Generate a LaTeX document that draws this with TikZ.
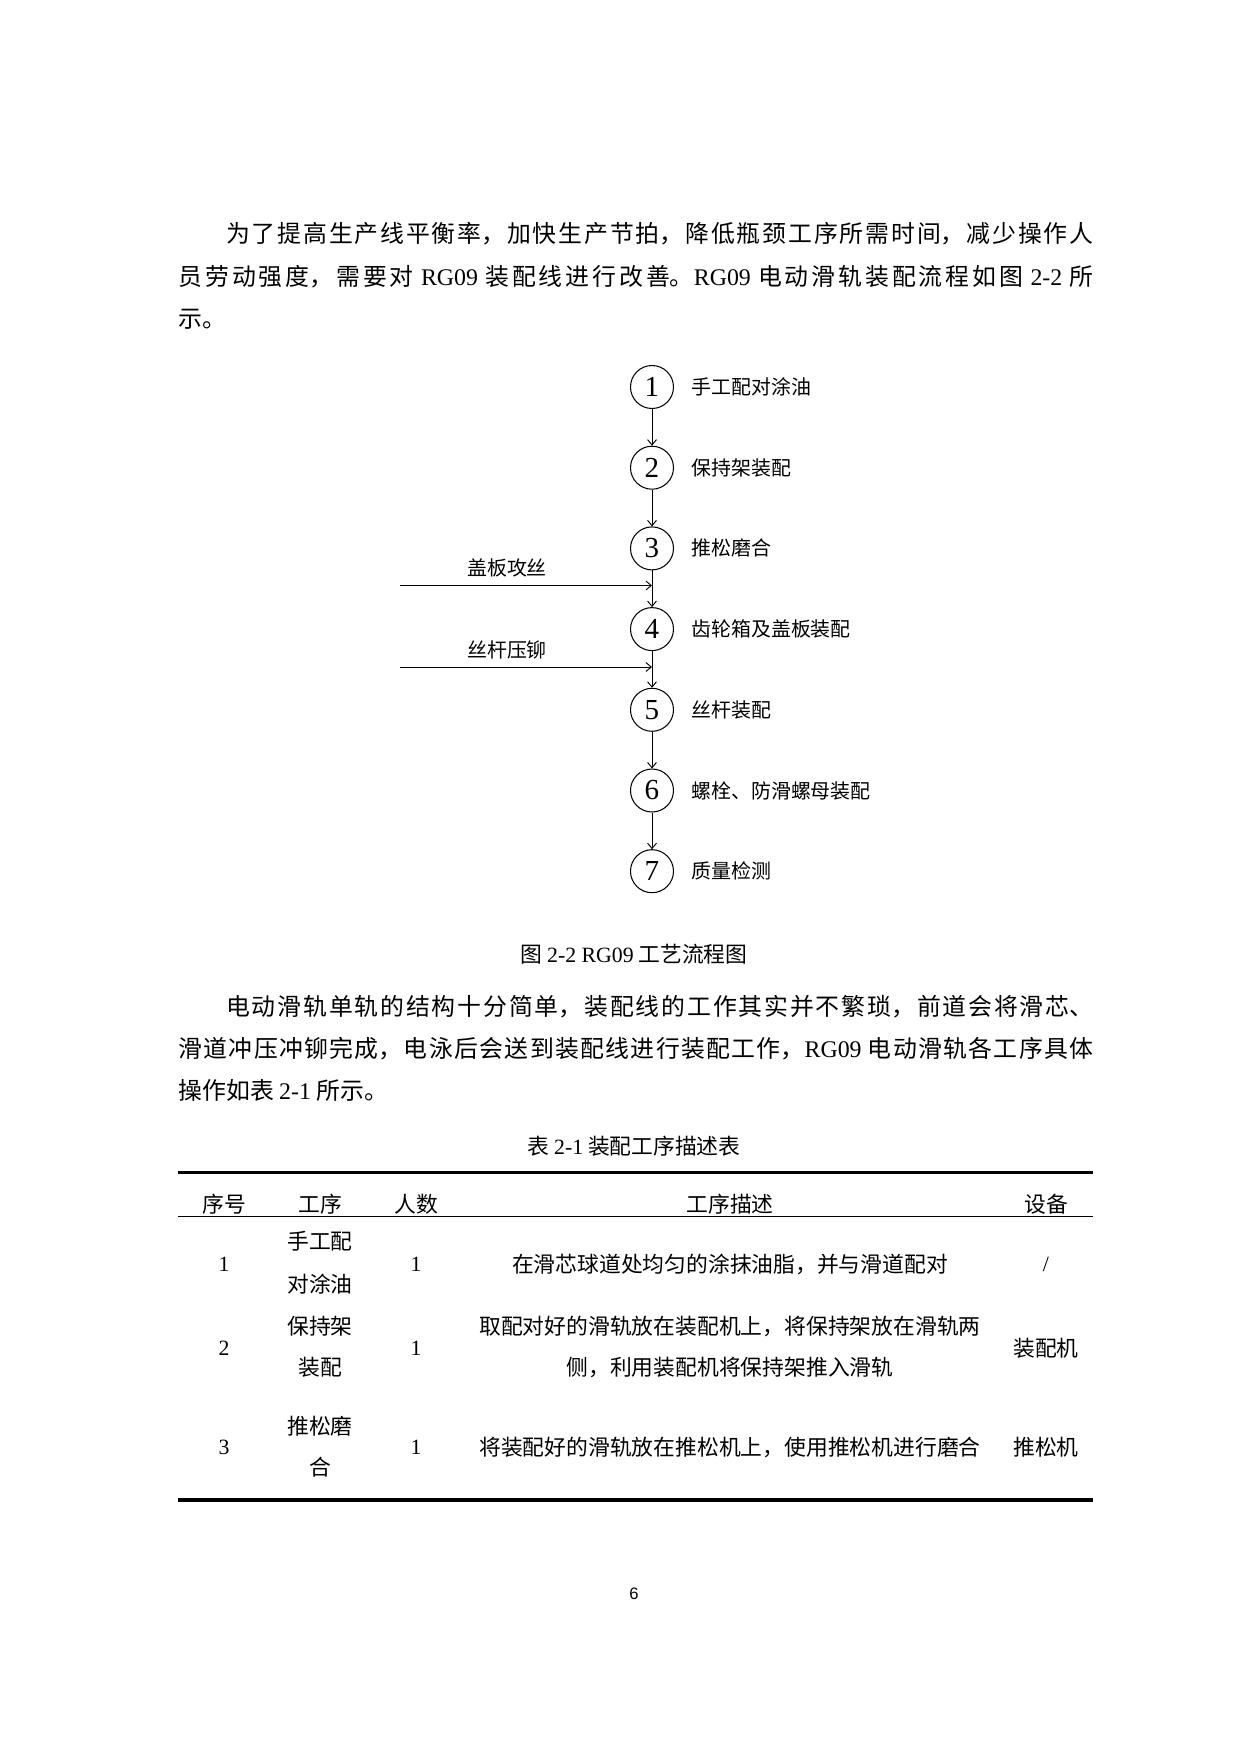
\documentclass[tikz,border=0pt]{standalone}
\usepackage{fontspec}
\setmainfont{Noto Sans CJK SC}
\newfontfamily\tnr{Liberation Serif}
\newfontfamily\pagefont{Liberation Sans}
\XeTeXlinebreaklocale "zh"
\XeTeXlinebreakskip=0pt plus 2pt
\usetikzlibrary{arrows.meta}

\tikzset{
  % a full body line, set flush to both margins
  bodyline/.style={anchor=west, inner sep=0pt, text width=154.96mm, align=justify,
    font=\fontsize{11.5pt}{14pt}\selectfont,
    execute at begin node={\rightskip=0pt\relax\parfillskip=0pt\relax}},
  shortline/.style={anchor=west, inner sep=0pt, font=\fontsize{11.5pt}{14pt}\selectfont},
  stepnode/.style={draw, circle, line width=0.5pt, minimum size=7.28mm, inner sep=0pt,
    font=\tnr\fontsize{14pt}{14pt}\selectfont},
  steplabel/.style={anchor=west, inner sep=0pt, font=\fontsize{9.6pt}{11pt}\selectfont},
  flow/.style={-{Straight Barb[length=0.9mm,width=1.5mm]}, line width=0.45pt},
  caption/.style={inner sep=0pt, font=\fontsize{10.5pt}{12pt}\selectfont},
  cell/.style={inner sep=0pt, font=\fontsize{10.5pt}{12pt}\selectfont},
  numcell/.style={inner sep=0pt, font=\tnr\fontsize{10.5pt}{12pt}\selectfont},
}

\begin{document}
\begin{tikzpicture}[x=0.16935mm, y=-0.16935mm]
  \fill[white] (0,0) rectangle (1240,1754);
  \useasboundingbox (0,0) rectangle (1240,1754);

  % first paragraph
  \node[bodyline] (p1a) at (178,234) {\hspace*{2em}为了提高生产线平衡率，加快生产节拍，降低瓶颈工序所需时间，减少操作人};
  \node[bodyline] (p1b) at (178,277) {员劳动强度，需要对 {\tnr RG09} 装配线进行改善。{\tnr RG09} 电动滑轨装配流程如图 {\tnr 2-2} 所};
  \node[shortline] (p1c) at (178,319) {示。};

  % process steps
  \foreach \i/\txt in {1/手工配对涂油, 2/保持架装配, 3/推松磨合, 4/齿轮箱及盖板装配,
                       5/丝杆装配, 6/螺栓、防滑螺母装配, 7/质量检测} {
      \node[stepnode] (s\i) at (652, {387+80.7*(\i-1)}) {\i};
      \node[steplabel] (l\i) at (691, {387+80.7*(\i-1)}) {\txt};
    }
  \foreach \i [count=\j from 2] in {1,...,6}
    \draw[flow] (s\i) -- (s\j);

  % side inputs
  \coordinate (gb) at (400,585.5);
  \coordinate (sg) at (400,667);
  \draw[flow] (gb) -- (gb -| s3);
  \draw[flow] (sg) -- (sg -| s4);
  \node[steplabel, anchor=center] (gbt) at (507,568) {盖板攻丝};
  \node[steplabel, anchor=center] (sgt) at (507,650) {丝杆压铆};

  \node[caption] (fig) at (634,954) {图 {\tnr 2-2 RG09} 工艺流程图};

  % second paragraph
  \node[bodyline] (p2a) at (178,1007) {\hspace*{2em}电动滑轨单轨的结构十分简单，装配线的工作其实并不繁琐，前道会将滑芯、};
  \node[bodyline] (p2b) at (178,1049) {滑道冲压冲铆完成，电泳后会送到装配线进行装配工作，{\tnr RG09} 电动滑轨各工序具体};
  \node[shortline] (p2c) at (178,1090) {操作如表 {\tnr 2-1} 所示。};

  % table
  \node[caption] (tab) at (634,1146.5) {表 {\tnr 2-1} 装配工序描述表};
  \draw[line width=1.6pt] (178,1172.5) -- (1093,1172.5);
  \draw[line width=0.5pt] (178,1216.5) -- (1093,1216.5);
  \draw[line width=1.6pt] (178,1500) -- (1093,1500);

  \node[cell] (h1) at (224,1204.6) {序号};
  \node[cell] (h2) at (320,1204.6) {工序};
  \node[cell] (h3) at (416,1204.6) {人数};
  \node[cell] (h4) at (730,1204.6) {工序描述};
  \node[cell] (h5) at (1046,1204.6) {设备};

  \node[numcell] (r1n) at (224,1264) {1};
  \node[cell] (r1a) at (320,1241.5) {手工配};
  \node[cell] (r1b) at (320,1284) {对涂油};
  \node[numcell] (r1p) at (416,1264) {1};
  \node[cell] (r1d) at (730,1264) {在滑芯球道处均匀的涂抹油脂，并与滑道配对};
  \node[numcell] (r1e) at (1046,1264) {/};

  \node[numcell] (r2n) at (224,1348) {2};
  \node[cell] (r2a) at (320,1326.5) {保持架};
  \node[cell] (r2b) at (320,1367) {装配};
  \node[numcell] (r2p) at (416,1348) {1};
  \node[cell] (r2d) at (730,1326.5) {取配对好的滑轨放在装配机上，将保持架放在滑轨两};
  \node[cell] (r2c) at (730,1367) {侧，利用装配机将保持架推入滑轨};
  \node[cell] (r2e) at (1046,1348) {装配机};

  \node[numcell] (r3n) at (224,1447.5) {3};
  \node[cell] (r3a) at (320,1426) {推松磨};
  \node[cell] (r3b) at (320,1467.5) {合};
  \node[numcell] (r3p) at (416,1447.5) {1};
  \node[cell] (r3d) at (730,1447.5) {将装配好的滑轨放在推松机上，使用推松机进行磨合};
  \node[cell] (r3e) at (1046,1447.5) {推松机};

  \node[font=\pagefont\fontsize{8pt}{8pt}\selectfont, inner sep=0pt] (pg) at (634,1594) {6};
\end{tikzpicture}
\end{document}
